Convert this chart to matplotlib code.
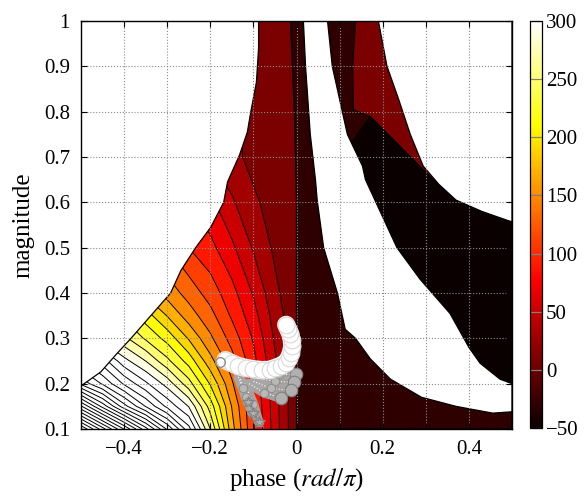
import numpy as np
import matplotlib
matplotlib.use('Agg')
import matplotlib.pyplot as plt
from matplotlib.colors import Normalize
from matplotlib.patches import Polygon
from matplotlib.cm import ScalarMappable

plt.rcParams['font.family'] = 'Liberation Serif'
plt.rcParams['mathtext.fontset'] = 'stix'

# grid of the left (phase < 0) field
field_phase = [-0.5, -0.45, -0.4, -0.35, -0.3, -0.25, -0.2, -0.15, -0.1, -0.05, 0.0]
field_mag = [0.1, 0.15, 0.2, 0.25, 0.3, 0.35, 0.4, 0.5, 0.6, 0.7, 0.8, 0.9, 1.0]
field = [
    [700, 629, 559, 488, 417, 347, 260, 168, 102, 50, 2],
    [563, 493, 428, 379, 335, 299, 231, 159, 100, 49, 2],
    [435, 397, 357, 324, 292, 248, 198, 143, 94, 47, 2],
    [380, 350, 307, 280, 245, 212, 167, 128, 86, 43, 2],
    [320, 290, 265, 237, 213, 178, 144, 112, 78, 37, 2],
    [285, 260, 235, 210, 179, 150, 127, 97, 68, 31, 3],
    [240, 220, 198, 175, 152, 132, 111, 87, 58, 25, 3],
    [185, 170, 155, 138, 120, 100, 86, 64, 38, 16, 4],
    [145, 135, 122, 110, 95, 80, 65, 43, 23, 13, 5],
    [100, 92, 82, 72, 62, 50, 38, 25, 15, 10, 6],
    [74, 68, 62, 55, 48, 40, 32, 24, 14, 10, 7],
    [60, 55, 50, 45, 39, 33, 27, 20, 12, 9, 7],
    [50, 46, 42, 38, 33, 28, 23, 17, 11, 9, 7],
]
levels = list(range(-60, 821, 20))

# flat regions on the right side
base_value = -30
red_value = 10
dark_value = -50

split_phase = [0.0, 0.0, -0.005, -0.014]
split_mag = [0.1, 0.6, 0.8, 1.0]

red_phase = [0.137, 0.13, 0.132, 0.171, 0.317, 0.37, 0.5, 0.5]
red_mag = [1.0, 0.9, 0.804, 0.789, 0.65, 0.605, 0.6, 1.0]

dark_phase = [0.128, 0.171, 0.317, 0.37, 0.43, 0.49, 0.5, 0.5, 0.472, 0.426, 0.40, 0.356, 0.287, 0.233, 0.194, 0.16]
dark_mag = [0.731, 0.789, 0.65, 0.605, 0.58, 0.56, 0.557, 0.2, 0.21, 0.245, 0.28, 0.355, 0.43, 0.5, 0.58, 0.65]

# blank (white) areas
ul_phase = [-0.5, -0.454, -0.418, -0.384, -0.338, -0.292, -0.268, -0.234, -0.199, -0.169,
            -0.16, -0.132, -0.114, -0.106, -0.093, -0.088, -0.088, -0.5]
ul_mag = [0.195, 0.226, 0.265, 0.3, 0.35, 0.4, 0.45, 0.5, 0.545, 0.6,
          0.645, 0.705, 0.755, 0.8, 0.865, 0.94, 1.0, 1.0]

arc_left_phase = [0.016, 0.021, 0.032, 0.044, 0.048, 0.063, 0.095, 0.113, 0.137, 0.171, 0.218, 0.29, 0.37, 0.455, 0.5]
arc_left_mag = [1.0, 0.9, 0.75, 0.65, 0.605, 0.5, 0.4, 0.32, 0.3, 0.255, 0.21, 0.17, 0.15, 0.135, 0.138]
arc_right_phase = [0.5, 0.472, 0.426, 0.40, 0.356, 0.287, 0.233, 0.194, 0.16, 0.153, 0.118, 0.083, 0.072]
arc_right_mag = [0.2, 0.21, 0.245, 0.28, 0.355, 0.43, 0.5, 0.58, 0.65, 0.68, 0.75, 0.9, 1.0]

tr_phase = [0.19, 0.21, 0.236, 0.264, 0.294, 0.33, 0.37, 0.43, 0.49, 0.5, 0.5]
tr_mag = [1.0, 0.9, 0.83, 0.75, 0.68, 0.64, 0.605, 0.58, 0.56, 0.557, 1.0]

# trajectory markers
arc_phase = [-0.165, -0.15, -0.135, -0.118, -0.1, -0.079, -0.062, -0.049, -0.036, -0.025,
             -0.018, -0.013, -0.01, -0.011, -0.014, -0.019, -0.024]
arc_mag = [0.252, 0.245, 0.239, 0.235, 0.232, 0.230, 0.231, 0.235, 0.24, 0.246,
           0.256, 0.268, 0.282, 0.296, 0.309, 0.320, 0.330]
tracks = [
    ([-0.08, -0.04, -0.002], [0.222, 0.222, 0.222], 'o'),
    ([-0.09, -0.05, -0.005], [0.212, 0.205, 0.203], 'o'),
    ([-0.1, -0.06, -0.012], [0.205, 0.19, 0.185], 'o'),
    ([-0.11, -0.075, -0.035], [0.2, 0.18, 0.168], 'o'),
    ([-0.12, -0.1, -0.088], [0.2, 0.155, 0.116], '*'),
    ([-0.13, -0.118, -0.102], [0.21, 0.17, 0.135], '*'),
    ([-0.135, -0.125, -0.112], [0.215, 0.19, 0.16], '*'),
]

norm = Normalize(vmin=-50, vmax=300)
cmap = plt.get_cmap('hot')

fig = plt.figure(figsize=(5.87, 4.96), dpi=100)
ax = fig.add_axes([81 / 587, 67 / 496, 431 / 587, 408 / 496])
cax = fig.add_axes([530 / 587, 68 / 496, 12 / 587, 407 / 496])

ax.contourf(field_phase, field_mag, field, levels=levels, cmap=cmap, norm=norm, zorder=1)
ax.contour(field_phase, field_mag, field, levels=levels, colors='k', linewidths=0.7, zorder=1.2)


def region(ph, mg, color, z):
    poly = Polygon(np.column_stack([ph, mg]), closed=True, facecolor=color,
                   edgecolor='k', linewidth=0.9, zorder=z)
    ax.add_patch(poly)


# right half, base colour
base_ph = split_phase + [0.5, 0.5]
base_mg = split_mag + [1.0, 0.1]
region(base_ph, base_mg, cmap(norm(base_value)), 1.4)
region(red_phase, red_mag, cmap(norm(red_value)), 1.5)
region(dark_phase, dark_mag, cmap(norm(dark_value)), 1.5)

# blank areas
region(ul_phase, ul_mag, 'white', 1.8)
region(arc_left_phase + arc_right_phase, arc_left_mag + arc_right_mag, 'white', 1.8)
region(tr_phase, tr_mag, 'white', 1.8)

# trajectories
for ph, mg, mk in tracks:
    ax.plot(ph, mg, color='#a8a8a8', lw=7, alpha=0.95, solid_capstyle='round', zorder=3)
    ax.plot(ph, mg, color='white', lw=0.8, ls=':', zorder=3.1)
    ax.plot(ph[1:], mg[1:], ls='none', marker='o', ms=6, mfc='#b8b8b8', mec='#909090', mew=0.8, zorder=3.2)
    ax.plot(ph[-1], mg[-1], ls='none', marker=mk, ms=9, mfc='#b0b0b0', mec='#808080', mew=0.8, zorder=3.3)
ax.plot(arc_phase, arc_mag, color='white', lw=13, solid_capstyle='round', zorder=3.5)
ax.plot(arc_phase, arc_mag, ls='none', marker='o', ms=12, mfc='white', mec='#d8d8d8', mew=0.8, zorder=3.6)
ax.plot([-0.178], [0.248], ls='none', marker='o', ms=7, mfc='none', mec='#909090', mew=1.0, zorder=3.7)

ax.set_xlim(-0.5, 0.5)
ax.set_ylim(0.1, 1.0)
xt = [-0.4, -0.3, -0.2, -0.1, 0.0, 0.1, 0.2, 0.3, 0.4]
ax.set_xticks(xt)
ax.set_xticklabels(['\u22120.4', '', '\u22120.2', '', '0', '', '0.2', '', '0.4'])
yt = [0.1, 0.2, 0.3, 0.4, 0.5, 0.6, 0.7, 0.8, 0.9, 1.0]
ax.set_yticks(yt)
ax.set_yticklabels(['0.1', '0.2', '0.3', '0.4', '0.5', '0.6', '0.7', '0.8', '0.9', '1'])
ax.tick_params(direction='in', top=True, right=True, length=4, labelsize=15, pad=8)
ax.set_axisbelow(False)
ax.grid(True, linestyle=':', color='0.55', linewidth=0.8)
ax.set_xlabel(r'phase ($rad/\pi$)', fontsize=18, labelpad=5)
ax.set_ylabel('magnitude', fontsize=18, labelpad=7)
for s in ax.spines.values():
    s.set_linewidth(1.0)
    s.set_zorder(5)

cb = fig.colorbar(ScalarMappable(norm=norm, cmap=cmap), cax=cax)
cb.set_ticks([-50, 0, 50, 100, 150, 200, 250, 300])
cax.tick_params(direction='in', length=8.6, color='0.5', width=0.8, labelsize=15, left=True, right=True, pad=3)
cb.outline.set_linewidth(0.9)

fig.savefig('out.png', dpi=100)
